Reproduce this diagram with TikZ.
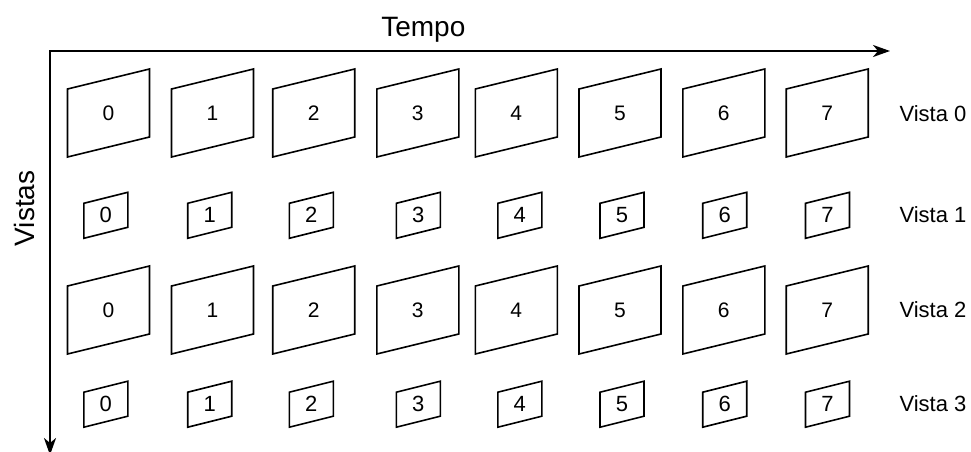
\documentclass[tikz,border=0pt]{standalone}
\usepackage{fontspec}
\setmainfont{Liberation Sans}
\usetikzlibrary{arrows.meta}
\begin{document}
\begin{tikzpicture}[x=1pt,y=-1pt,
  axis/.style={line width=2pt, line join=miter},
  framebox/.style={line width=1.6pt, line join=miter},
  bigdigit/.style={inner sep=0pt, font=\fontsize{21}{25}\selectfont},
  smalldigit/.style={inner sep=0pt, font=\fontsize{22}{26}\selectfont},
  viewlabel/.style={anchor=west, inner sep=0pt, font=\fontsize{22}{26}\selectfont},
  axislabel/.style={inner sep=0pt, font=\fontsize{28}{33}\selectfont}]
\useasboundingbox (0,0) rectangle (971,452);

% axes
\coordinate (o) at (50,51);
\coordinate (tEnd) at (890,51);
\coordinate (vEnd) at (50,455);
\draw[axis, {Stealth[length=17pt,width=12pt,inset=5pt]}-{Stealth[length=17pt,width=12pt,inset=5pt]}]
  (tEnd) -- (o) -- (vEnd);
\node[axislabel, anchor=base] (tempo) at (423.3,36.7) {Tempo};
\node[axislabel, anchor=base, rotate=90] (vistas) at (34.3,208.3) {Vistas};

% large frames (views 0 and 2)
\foreach \r/\cy in {0/113, 2/310} {
  \foreach \cx [count=\c from 0] in {108.5,212.5,313.7,417.8,516.3,620,723.8,827.2} {
    \node[bigdigit] (f-\r-\c) at (\cx,\cy) {\c};
    \draw[framebox, shift={(f-\r-\c.center)}]
      (-41,-24) -- (41,-44) -- (41,24) -- (-41,44) -- cycle;
  }
}

% small frames (views 1 and 3)
\foreach \r/\cy in {1/215.3, 3/404.2} {
  \foreach \cx [count=\c from 0] in {105.8,209.7,311.3,418.3,519.8,622,724.7,827.5} {
    \node[smalldigit] (f-\r-\c) at (\cx,\cy) {\c};
    \draw[framebox, shift={(f-\r-\c.center)}]
      (-22,-12) -- (22,-23) -- (22,12) -- (-22,23) -- cycle;
  }
}

% view labels
\node[viewlabel] (v0) at (899.3,113.3) {Vista 0};
\node[viewlabel] (v1) at (899.3,215) {Vista 1};
\node[viewlabel] (v2) at (899.3,310) {Vista 2};
\node[viewlabel] (v3) at (899.3,404) {Vista 3};
\end{tikzpicture}
\end{document}
